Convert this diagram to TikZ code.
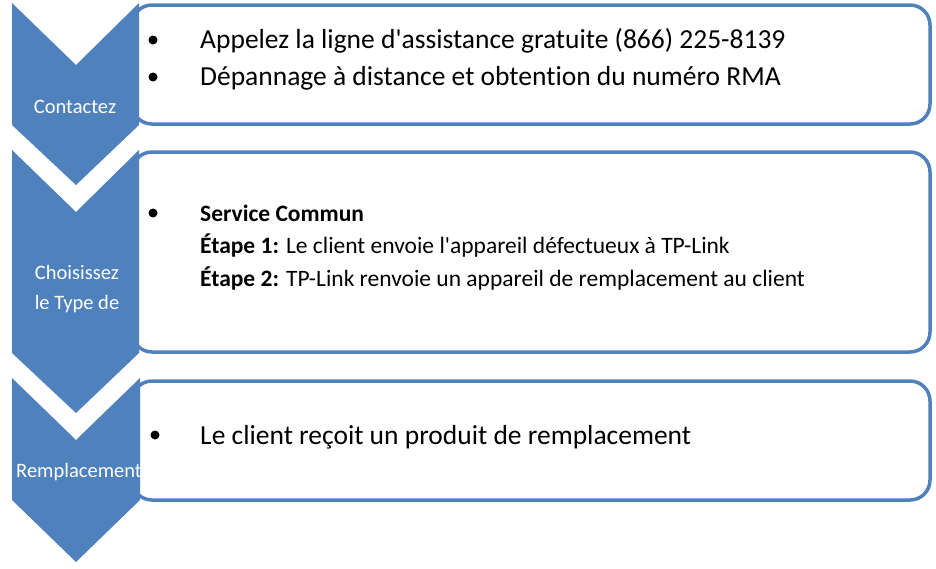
\documentclass[tikz,border=0pt]{standalone}
\usepackage{fontspec}
\setmainfont{Carlito}[Ligatures={TeXOff,NoCommon}]
\definecolor{obl}{HTML}{4F81BD}
\begin{document}
\begin{tikzpicture}[x=1pt,y=-1pt,
  chev/.style={fill=obl,draw=none},
  roundbox/.style={draw=obl,line width=3.5pt,rounded corners=20pt,fill=white},
  chevlabel/.style={text=white,font=\fontsize{20.5}{30}\selectfont,align=center,inner sep=0pt},
  bigtxt/.style={anchor=base west,font=\fontsize{27.5}{32}\selectfont,inner sep=0pt},
  smalltxt/.style={anchor=base west,font=\fontsize{23.5}{28}\selectfont,inner sep=0pt},
  bul/.style={circle,fill=black,inner sep=0pt,minimum size=9pt}]
\useasboundingbox (0,0) rectangle (936,568);
% boxes
\draw[roundbox] (132,5) rectangle (930,124);
\draw[roundbox] (132,152) rectangle (930,352);
\draw[roundbox] (132,381) rectangle (930,500);
% chevrons
\fill[chev] (12,3) -- (76,65) -- (139,3) -- (139,125) -- (76,185) -- (12,125) -- cycle;
\fill[chev] (12,150) -- (76,212) -- (139,150) -- (139,353) -- (76,413) -- (12,353) -- cycle;
\fill[chev] (12,378) -- (76,440) -- (140,378) -- (140,500) -- (76,562) -- (12,500) -- cycle;
% chevron labels
\node[chevlabel] (l1) at (75,107) {Contactez};
\node[chevlabel] (l2) at (77,289) {Choisissez\\le Type de};
\node[chevlabel] (l3) at (79,472) {Remplacement};
% box 1
\node[bul] (b1) at (153,40) {};
\node[bigtxt] (t1) at (200,48) {Appelez la ligne d'assistance gratuite (866) 225-8139};
\node[bul] (b2) at (153,77) {};
\node[bigtxt] (t2) at (200,85) {Dépannage à distance et obtention du numéro RMA};
% box 2
\node[bul] (b3) at (153,213) {};
\node[smalltxt] (t3) at (200,221) {\bfseries Service Commun};
\node[smalltxt] (t4) at (200,253) {\textbf{Étape 1:} Le client envoie l'appareil défectueux à TP-Link};
\node[smalltxt] (t5) at (200,286) {\textbf{Étape 2:} TP-Link renvoie un appareil de remplacement au client};
% box 3
\node[bul] (b4) at (155,435) {};
\node[bigtxt] (t6) at (200,444) {Le client reçoit un produit de remplacement};
\end{tikzpicture}
\end{document}
